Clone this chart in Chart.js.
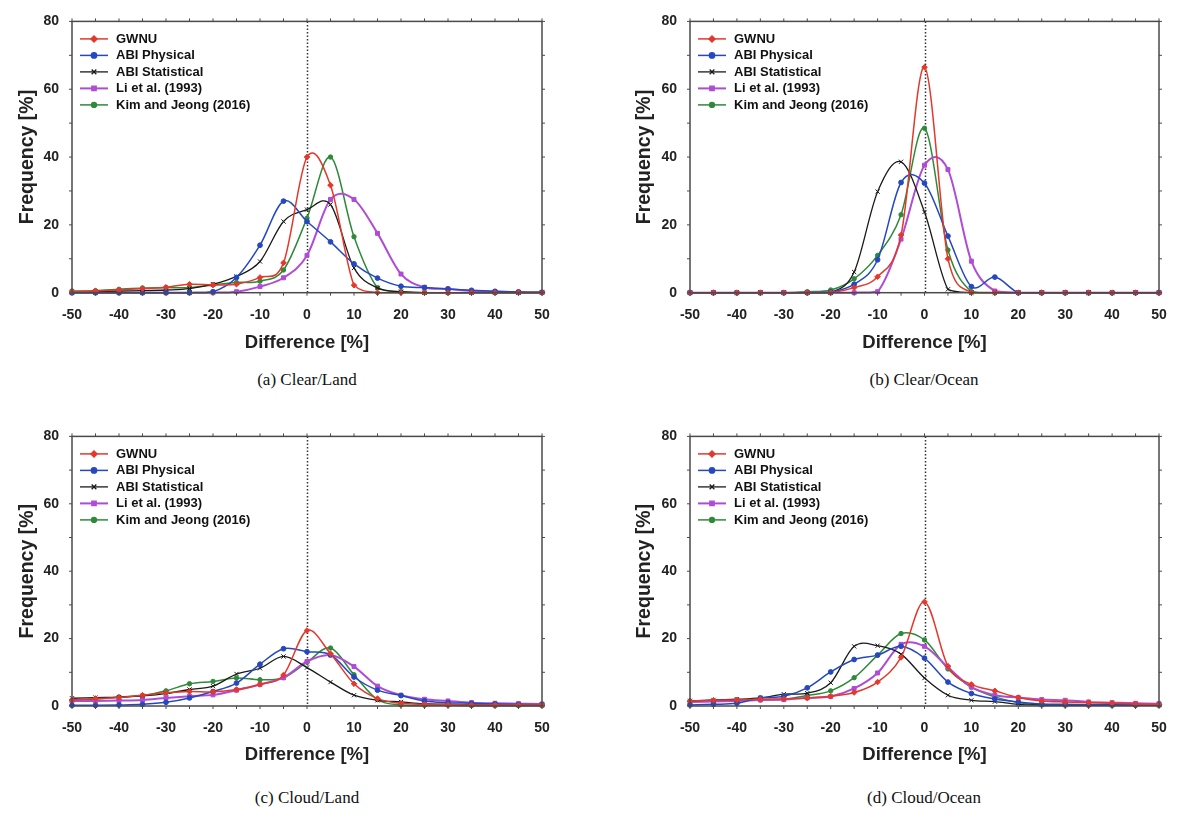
<!DOCTYPE html>
<html>
<head>
<meta charset="utf-8">
<script src="https://cdn.jsdelivr.net/npm/chart.js@4.4.1/dist/chart.umd.min.js"></script>
<style>
  body { margin: 0; background: #fff; width: 1185px; height: 827px; position: relative; overflow: hidden; }
  .panel { position: absolute; }
  .caption { position: absolute; width: 300px; text-align: center; font-family: 'Liberation Serif', 'Times New Roman', serif; font-size: 17px; line-height: 20px; color: #111; }
</style>
</head>
<body>
<div class="panel" style="left:0;top:0"><canvas id="chartA" width="580" height="360"></canvas></div>
<div class="panel" style="left:617px;top:0"><canvas id="chartB" width="568" height="360"></canvas></div>
<div class="panel" style="left:0;top:415px"><canvas id="chartC" width="580" height="360"></canvas></div>
<div class="panel" style="left:617px;top:415px"><canvas id="chartD" width="568" height="360"></canvas></div>
<div class="caption" style="left:157px;top:370px">(a) Clear/Land</div>
<div class="caption" style="left:774px;top:370px">(b) Clear/Ocean</div>
<div class="caption" style="left:157px;top:788px">(c) Cloud/Land</div>
<div class="caption" style="left:774px;top:788px">(d) Cloud/Ocean</div>
<script>
// difference bins [%]
const diffs = [-50, -45, -40, -35, -30, -25, -20, -15, -10, -5, 0, 5, 10, 15, 20, 25, 30, 35, 40, 45, 50];
const seriesNames = ['GWNU', 'ABI Physical', 'ABI Statistical', 'Li et al. (1993)', 'Kim and Jeong (2016)'];

// (a) Clear/Land
const gwnuA = [0.3, 0.5, 0.8, 1.2, 1.6, 2.5, 2.3, 2.5, 4.5, 8.8, 40, 31.7, 2.2, 0, 0, 0, 0, 0, 0, 0, 0];
const physA = [0, 0, 0, 0, 0, 0, 0.3, 4.5, 14, 27, 21, 15, 8.5, 4.3, 1.9, 1.5, 1.1, 0.7, 0.4, 0.2, 0.1];
const statA = [0.2, 0.3, 0.5, 0.6, 0.8, 1.2, 2.5, 4.8, 9.2, 21, 24.5, 26, 7.3, 1.4, 0.3, 0, 0, 0, 0, 0, 0];
const liA   = [0, 0, 0, 0, 0, 0, 0, 0.3, 1.8, 4.4, 11, 27.5, 27.5, 17.5, 5.5, 1.6, 1.1, 0.5, 0.3, 0.2, 0.1];
const kimA  = [0.5, 0.6, 1.0, 1.4, 1.5, 1.5, 2.3, 3.0, 3.4, 6.7, 22, 40, 16.5, 1.5, 0.3, 0, 0, 0, 0, 0, 0];

// (b) Clear/Ocean
const gwnuB = [0, 0, 0, 0, 0, 0, 0, 1.5, 4.7, 17, 66.5, 10, 0, 0, 0, 0, 0, 0, 0, 0, 0];
const physB = [0, 0, 0, 0, 0, 0, 0.2, 2.5, 9.7, 32.5, 32.3, 16.7, 1.8, 4.6, 0, 0, 0, 0, 0, 0, 0];
const statB = [0, 0, 0, 0, 0, 0, 0, 6.1, 29.8, 38.6, 23.8, 1, 0, 0, 0, 0, 0, 0, 0, 0, 0];
const liB   = [0, 0, 0, 0, 0, 0, 0, 0, 0.3, 15.8, 37.6, 36.3, 9.3, 0.5, 0, 0, 0, 0, 0, 0, 0];
const kimB  = [0, 0, 0, 0, 0, 0.3, 0.8, 4.1, 11, 23, 48.5, 12.6, 0.3, 0, 0, 0, 0, 0, 0, 0, 0];

// (c) Cloud/Land
const gwnuC = [1.8, 2.2, 2.5, 3.2, 3.9, 4.3, 4.2, 4.9, 6.4, 9.2, 22.4, 15.5, 6.6, 2.2, 0.8, 0.5, 0.4, 0.3, 0.3, 0.3, 0.3];
const physC = [0.2, 0.2, 0.3, 0.5, 1.1, 2.4, 4.3, 6.8, 12.4, 17, 16.1, 15.2, 8.6, 4.7, 3.1, 1.5, 1.0, 0.8, 0.6, 0.5, 0.4];
const statC = [2.3, 2.5, 2.6, 3.0, 3.7, 4.9, 5.9, 9.5, 11.2, 14.7, 11.4, 7.1, 3.2, 1.7, 1.2, 0.7, 0.5, 0.4, 0.3, 0.3, 0.3];
const liC   = [1.5, 1.5, 1.6, 1.8, 2.4, 2.9, 3.3, 4.7, 6.4, 8.4, 13.2, 15.1, 11.7, 5.9, 3.2, 2.0, 1.5, 1.0, 0.8, 0.7, 0.6];
const kimC  = [1.7, 2.0, 2.7, 3.1, 4.5, 6.6, 7.3, 8.3, 7.8, 8.4, 13, 17.2, 9.3, 1.9, 0.3, 0.2, 0.2, 0.1, 0.1, 0.1, 0.1];

// (d) Cloud/Ocean
const gwnuD = [1.5, 1.7, 1.8, 2.0, 2.1, 2.4, 2.9, 4.0, 7.1, 14.4, 30.9, 11.8, 6.4, 4.5, 2.5, 1.5, 1.2, 1.0, 0.8, 0.6, 0.5];
const physD = [0.3, 0.5, 0.8, 2.4, 2.9, 5.4, 10.1, 13.8, 15.1, 17.7, 14.2, 7.1, 3.7, 2.1, 1.2, 0.6, 0.5, 0.4, 0.3, 0.3, 0.3];
const statD = [1.5, 1.8, 2.0, 2.4, 3.5, 3.8, 6.9, 17.7, 17.9, 15.4, 8.3, 3.2, 1.7, 1.3, 0.5, 0.3, 0.3, 0.3, 0.3, 0.3, 0.3];
const liD   = [1.2, 1.3, 1.5, 1.8, 1.9, 2.4, 2.8, 5.2, 9.8, 18.3, 17.7, 11.5, 5.6, 3.2, 2.5, 1.9, 1.7, 1.2, 1.0, 0.8, 0.7];
const kimD  = [1.5, 1.6, 1.8, 1.8, 2.0, 3.1, 4.5, 8.4, 15.1, 21.5, 19.6, 11, 5.6, 2.7, 1, 0.3, 0.2, 0.2, 0.2, 0.2, 0.2];

const styles = [
  { color: '#e3382c', pointStyle: 'rectRot', radius: 2.8, width: 1.5 },
  { color: '#2548c0', pointStyle: 'circle', radius: 2.4, width: 1.5 },
  { color: '#1a1a1a', pointStyle: 'crossRot', radius: 3, width: 1.3 },
  { color: '#b04cd4', pointStyle: 'rect', radius: 2.8, width: 2 },
  { color: '#2e8a38', pointStyle: 'circle', radius: 2.2, width: 1.5 },
];

Chart.defaults.font.family = "'Liberation Sans', Arial, sans-serif";

// smooth the lines like a cardinal spline through the points (overshoots peaks a little)
const splineCurve = {
  id: 'splineCurve',
  beforeDatasetsDraw(chart) {
    const bottom = chart.chartArea.bottom;
    chart.data.datasets.forEach((ds, i) => {
      const meta = chart.getDatasetMeta(i);
      meta.dataset.updateControlPoints(chart.chartArea, 'x');
      const pts = meta.data;
      pts.forEach((p, k) => {
        const prev = pts[k - 1] || p;
        const next = pts[k + 1] || p;
        const dx = (next.x - prev.x) / 6;
        const dy = (next.y - prev.y) / 6;
        p.cp1x = p.x - dx;
        p.cp1y = Math.min(p.y - dy, bottom);
        p.cp2x = p.x + dx;
        p.cp2y = Math.min(p.y + dy, bottom);
      });
    });
  }
};

// legend drawn inside the plot, top-left, line + marker like the original
const insideLegend = {
  id: 'insideLegend',
  afterDatasetsDraw(chart) {
    const { ctx, chartArea } = chart;
    ctx.save();
    chart.data.datasets.forEach((ds, i) => {
      const y = chartArea.top + 17.5 + i * 16.5;
      const x0 = chartArea.left + 8;
      ctx.strokeStyle = ds.borderColor;
      ctx.lineWidth = ds.borderWidth;
      ctx.beginPath();
      ctx.moveTo(x0, y);
      ctx.lineTo(x0 + 28, y);
      ctx.stroke();
      ctx.fillStyle = ds.borderColor;
      ctx.lineWidth = 1.3;
      Chart.helpers.drawPoint(ctx, { pointStyle: ds.pointStyle, radius: ds.pointRadius + 0.3, borderWidth: 1.3, rotation: 0 }, x0 + 14, y);
      ctx.fillStyle = '#111';
      ctx.font = "bold 13px 'Liberation Sans', Arial, sans-serif";
      ctx.textBaseline = 'middle';
      ctx.fillText(ds.label, x0 + 36, y + 0.5);
    });
    ctx.restore();
  }
};

// dotted zero line, frame and outward tick marks
const frame = {
  id: 'frame',
  beforeDatasetsDraw(chart) {
    const { ctx, chartArea, scales } = chart;
    const x = Math.round(scales.x.getPixelForValue(0)) + 0.5;
    ctx.save();
    ctx.strokeStyle = '#333';
    ctx.lineWidth = 1.5;
    ctx.setLineDash([1.5, 2]);
    ctx.beginPath();
    ctx.moveTo(x, chartArea.top);
    ctx.lineTo(x, chartArea.bottom);
    ctx.stroke();
    ctx.restore();
  },
  afterDatasetsDraw(chart) {
    const { ctx, chartArea: a, scales } = chart;
    ctx.save();
    ctx.strokeStyle = '#4a4a4a';
    ctx.lineWidth = 1.5;
    ctx.strokeRect(a.left, a.top, a.right - a.left, a.bottom - a.top);
    ctx.lineWidth = 1;
    ctx.beginPath();
    scales.x.ticks.forEach(t => {
      const px = scales.x.getPixelForValue(t.value);
      ctx.moveTo(px, a.top); ctx.lineTo(px, a.top - 3);
      ctx.moveTo(px, a.bottom); ctx.lineTo(px, a.bottom + 3);
    });
    scales.y.ticks.forEach(t => {
      const py = scales.y.getPixelForValue(t.value);
      ctx.moveTo(a.left, py); ctx.lineTo(a.left - 3, py);
      ctx.moveTo(a.right, py); ctx.lineTo(a.right + 3, py);
    });
    ctx.stroke();
    ctx.restore();
  }
};

function makePanel(id, values, geo) {
  const datasets = values.map((vals, i) => ({
    label: seriesNames[i],
    data: vals.map((v, j) => ({ x: diffs[j], y: v })),
    borderColor: styles[i].color,
    backgroundColor: styles[i].color,
    borderWidth: styles[i].width,
    pointStyle: styles[i].pointStyle,
    pointRadius: styles[i].radius,
    pointBorderWidth: 1,
    tension: 0.4,
    clip: { left: 4, right: 4, top: 0, bottom: 4 },
    fill: false,
  }));
  return new Chart(document.getElementById(id), {
    type: 'line',
    data: { datasets },
    options: {
      responsive: false,
      animation: false,
      layout: { padding: { top: geo.padTop, right: geo.padRight, bottom: 0, left: 0 } },
      plugins: { legend: { display: false }, tooltip: { enabled: false } },
      scales: {
        x: {
          type: 'linear', min: -50, max: 50,
          grid: { display: false, drawTicks: false }, border: { display: false },
          ticks: {
            stepSize: 5, autoSkip: false, maxRotation: 0, padding: 14, color: '#222',
            font: { size: 14, weight: 'bold' },
            callback: v => (v % 10 === 0 ? String(v) : '')
          },
          title: { display: true, text: 'Difference [%]', color: '#222', font: { size: 18.5, weight: 'bold' }, padding: { top: 0, bottom: geo.xTitlePad } },
          afterFit: s => { s.height = geo.xHeight; }
        },
        y: {
          min: 0, max: 80,
          grid: { display: false, drawTicks: false }, border: { display: false },
          ticks: {
            stepSize: 10, padding: 13, color: '#222',
            font: { size: 14, weight: 'bold' },
            callback: v => (v % 20 === 0 ? String(v) : '')
          },
          title: { display: true, text: 'Frequency [%]', color: '#222', font: { size: 19.5, weight: 'bold' }, padding: { top: 16, bottom: 0 } },
          afterFit: s => { s.width = geo.yWidth; }
        }
      }
    },
    plugins: [splineCurve, frame, insideLegend]
  });
}

makePanel('chartA', [gwnuA, physA, statA, liA, kimA], { padTop: 16.5, padRight: 38, xHeight: 67.3, xTitlePad: 6, yWidth: 72 });
makePanel('chartB', [gwnuB, physB, statB, liB, kimB], { padTop: 16.5, padRight: 26, xHeight: 67.3, xTitlePad: 6, yWidth: 73 });
makePanel('chartC', [gwnuC, physC, statC, liC, kimC], { padTop: 16.7, padRight: 38, xHeight: 69, xTitlePad: 9, yWidth: 72 });
makePanel('chartD', [gwnuD, physD, statD, liD, kimD], { padTop: 16.7, padRight: 26, xHeight: 69, xTitlePad: 9, yWidth: 73 });
</script>
</body>
</html>
